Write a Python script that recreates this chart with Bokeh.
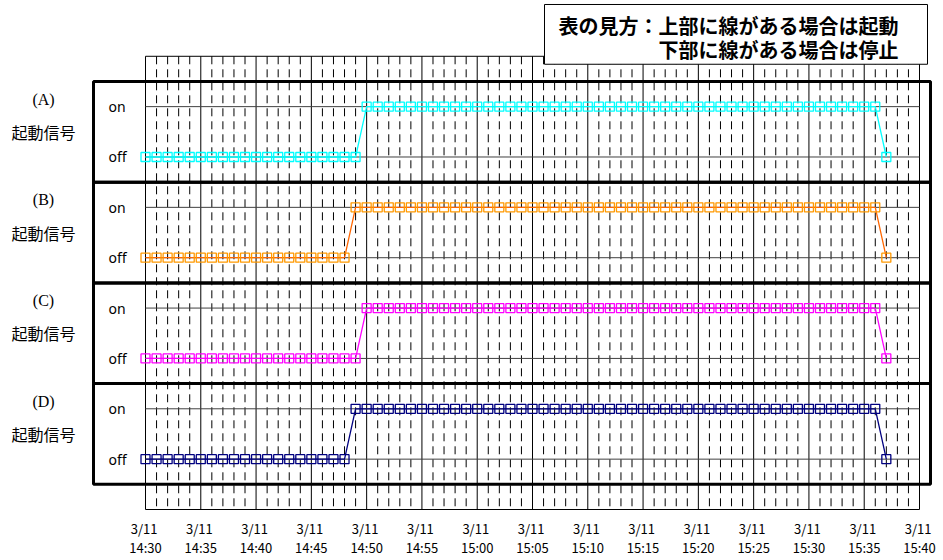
from bokeh.plotting import figure
from bokeh.models import FixedTicker, Range1d
from bokeh.embed import file_html
from bokeh.resources import INLINE
from bokeh.core.properties import value

# ---------------- data ----------------
# sample times: minutes after 14:30 on 3/11 (one sample per minute, 14:30 .. 15:37)
sample_minutes = [
    0, 1, 2, 3, 4, 5, 6, 7, 8, 9,
    10, 11, 12, 13, 14, 15, 16, 17, 18, 19,
    20, 21, 22, 23, 24, 25, 26, 27, 28, 29,
    30, 31, 32, 33, 34, 35, 36, 37, 38, 39,
    40, 41, 42, 43, 44, 45, 46, 47, 48, 49,
    50, 51, 52, 53, 54, 55, 56, 57, 58, 59,
    60, 61, 62, 63, 64, 65, 66, 67,
]
# 0 = off (停止), 1 = on (起動)
state_A = [
    0, 0, 0, 0, 0, 0, 0, 0, 0, 0,
    0, 0, 0, 0, 0, 0, 0, 0, 0, 0,
    1, 1, 1, 1, 1, 1, 1, 1, 1, 1,
    1, 1, 1, 1, 1, 1, 1, 1, 1, 1,
    1, 1, 1, 1, 1, 1, 1, 1, 1, 1,
    1, 1, 1, 1, 1, 1, 1, 1, 1, 1,
    1, 1, 1, 1, 1, 1, 1, 0,
]
state_B = [
    0, 0, 0, 0, 0, 0, 0, 0, 0, 0,
    0, 0, 0, 0, 0, 0, 0, 0, 0, 1,
    1, 1, 1, 1, 1, 1, 1, 1, 1, 1,
    1, 1, 1, 1, 1, 1, 1, 1, 1, 1,
    1, 1, 1, 1, 1, 1, 1, 1, 1, 1,
    1, 1, 1, 1, 1, 1, 1, 1, 1, 1,
    1, 1, 1, 1, 1, 1, 1, 0,
]
state_C = [
    0, 0, 0, 0, 0, 0, 0, 0, 0, 0,
    0, 0, 0, 0, 0, 0, 0, 0, 0, 0,
    1, 1, 1, 1, 1, 1, 1, 1, 1, 1,
    1, 1, 1, 1, 1, 1, 1, 1, 1, 1,
    1, 1, 1, 1, 1, 1, 1, 1, 1, 1,
    1, 1, 1, 1, 1, 1, 1, 1, 1, 1,
    1, 1, 1, 1, 1, 1, 1, 0,
]
state_D = [
    0, 0, 0, 0, 0, 0, 0, 0, 0, 0,
    0, 0, 0, 0, 0, 0, 0, 0, 0, 1,
    1, 1, 1, 1, 1, 1, 1, 1, 1, 1,
    1, 1, 1, 1, 1, 1, 1, 1, 1, 1,
    1, 1, 1, 1, 1, 1, 1, 1, 1, 1,
    1, 1, 1, 1, 1, 1, 1, 1, 1, 1,
    1, 1, 1, 1, 1, 1, 1, 0,
]
signal_ids = ["(A)", "(B)", "(C)", "(D)"]
signal_title = "起動信号"
state_labels = ["off", "on"]
tick_minutes = [0, 5, 10, 15, 20, 25, 30, 35, 40, 45, 50, 55, 60, 65, 70]
tick_date = "3/11"
tick_times = ["14:30", "14:35", "14:40", "14:45", "14:50", "14:55", "15:00",
              "15:05", "15:10", "15:15", "15:20", "15:25", "15:30", "15:35", "15:40"]
legend_lines = ["表の見方：上部に線がある場合は起動", "下部に線がある場合は停止"]

# ---------------- layout / style ----------------
W, H = 943, 560
PX_X = 774 / 70.0          # px per minute
PX_Y = 455 / 18.0          # px per y unit
X0_PX, Y18_PX = 145, 56    # pixel of minute 0 / y=18
BOTTOM_BORDER = 48
X_MIN = -X0_PX / PX_X
X_MAX = (W - X0_PX) / PX_X
Y_TOP = 18 + Y18_PX / PX_Y
Y_BOT = 18 - (H - BOTTOM_BORDER - Y18_PX) / PX_Y

colors = {
    "A": ("#00FFFF", "#00FFFF"),
    "B": ("#FF9900", "#FF6600"),
    "C": ("#FF00FF", "#FF00FF"),
    "D": ("#000080", "#000080"),
}
panel_base = {"A": 14, "B": 10, "C": 6, "D": 2}   # y of "off" line in each panel
states = {"A": state_A, "B": state_B, "C": state_C, "D": state_D}

p = figure(width=W, height=H, output_backend="svg", toolbar_location=None,
           x_range=Range1d(X_MIN, X_MAX), y_range=Range1d(Y_BOT, Y_TOP),
           y_axis_location=None, min_border_left=0, min_border_right=0,
           min_border_top=0, min_border_bottom=BOTTOM_BORDER)
p.outline_line_color = None
p.xgrid.visible = False
p.ygrid.visible = False
p.background_fill_color = "white"
p.border_fill_color = "white"

ax = p.xaxis[0]
ax.ticker = FixedTicker(ticks=tick_minutes)
ax.major_label_overrides = {m: tick_date + " \n" + t for m, t in zip(tick_minutes, tick_times)}
ax.axis_line_color = None
ax.major_tick_line_color = None
ax.minor_tick_line_color = None
ax.major_tick_out = 0
ax.major_tick_in = 0
ax.major_label_standoff = 8
ax.major_label_text_font = "Noto Sans CJK JP"
ax.major_label_text_font_size = "13px"
ax.major_label_text_color = "#000000"
ax.major_label_text_line_height = 1.04

# vertical grid: minor dashed every minute, major solid every 5 minutes
minor = [m for m in range(0, 71) if m % 5 != 0]
p.segment(x0=minor, y0=[18] * len(minor), x1=minor, y1=[0] * len(minor),
          line_color="#000000", line_width=1, line_dash="8 5")
p.segment(x0=tick_minutes, y0=[18] * len(tick_minutes), x1=tick_minutes,
          y1=[0] * len(tick_minutes), line_color="#000000", line_width=1)
# plot area top / bottom borders
p.segment(x0=[0, 0], y0=[18, 0], x1=[70, 70], y1=[18, 0], line_color="#000000", line_width=1)

# on / off reference lines per panel
hy = []
for k in "ABCD":
    hy += [panel_base[k], panel_base[k] + 2]
p.segment(x0=[0] * len(hy), y0=hy, x1=[70] * len(hy), y1=hy, line_color="#404040", line_width=1)

# series
for k in "ABCD":
    ys = [panel_base[k] + 2 * s for s in states[k]]
    mc, lc = colors[k]
    p.line(sample_minutes, ys, line_color=lc, line_width=1.3)
    p.scatter(sample_minutes, ys, marker="square", size=9, fill_color=None,
              line_color=mc, line_width=1.3)

# thick panel boxes
PL, PR = (93 - X0_PX) / PX_X, (930 - X0_PX) / PX_X
tops = [panel_base[k] + 3 for k in "ABCD"]
bots = [panel_base[k] - 1 for k in "ABCD"]
p.quad(left=[PL] * 4, right=[PR] * 4, top=tops, bottom=bots,
       fill_color=None, line_color="#000000", line_width=3)

# panel text
lab_x = (43 - X0_PX) / PX_X
onoff_x = (108 - X0_PX) / PX_X
p.text(x=[lab_x] * 4, y=[t - 0.7 for t in tops], text=signal_ids,
       text_font=value("Liberation Serif"), text_font_size="16px",
       text_align="center", text_baseline="middle", text_color="#000000")
p.text(x=[lab_x] * 4, y=[t - 2.0 for t in tops], text=[signal_title] * 4,
       text_font=value("Noto Sans CJK JP"), text_font_size="16px",
       text_align="center", text_baseline="middle", text_color="#000000")
p.text(x=[onoff_x] * 8, y=hy, text=[state_labels[i % 2] for i in range(8)],
       text_font=value("Noto Sans"), text_font_size="14px",
       text_align="left", text_baseline="middle", text_color="#000000")

# legend box
bx0, bx1 = (544 - X0_PX) / PX_X, (927 - X0_PX) / PX_X
by_top, by_bot = 18 + (Y18_PX - 4) / PX_Y, 18 - (64 - Y18_PX) / PX_Y
p.quad(left=[bx0], right=[bx1], top=[by_top], bottom=[by_bot],
       fill_color="white", line_color="#000000", line_width=1)
p.text(x=[(558 - X0_PX) / PX_X, (658 - X0_PX) / PX_X],
       y=[18 + (Y18_PX - 25) / PX_Y, 18 + (Y18_PX - 49) / PX_Y],
       text=legend_lines, text_font=value("Noto Sans CJK JP"), text_font_size="20px",
       text_font_style="bold", text_align="left", text_baseline="middle",
       text_color="#000000")

open("out.html", "w").write(file_html(p, INLINE))
